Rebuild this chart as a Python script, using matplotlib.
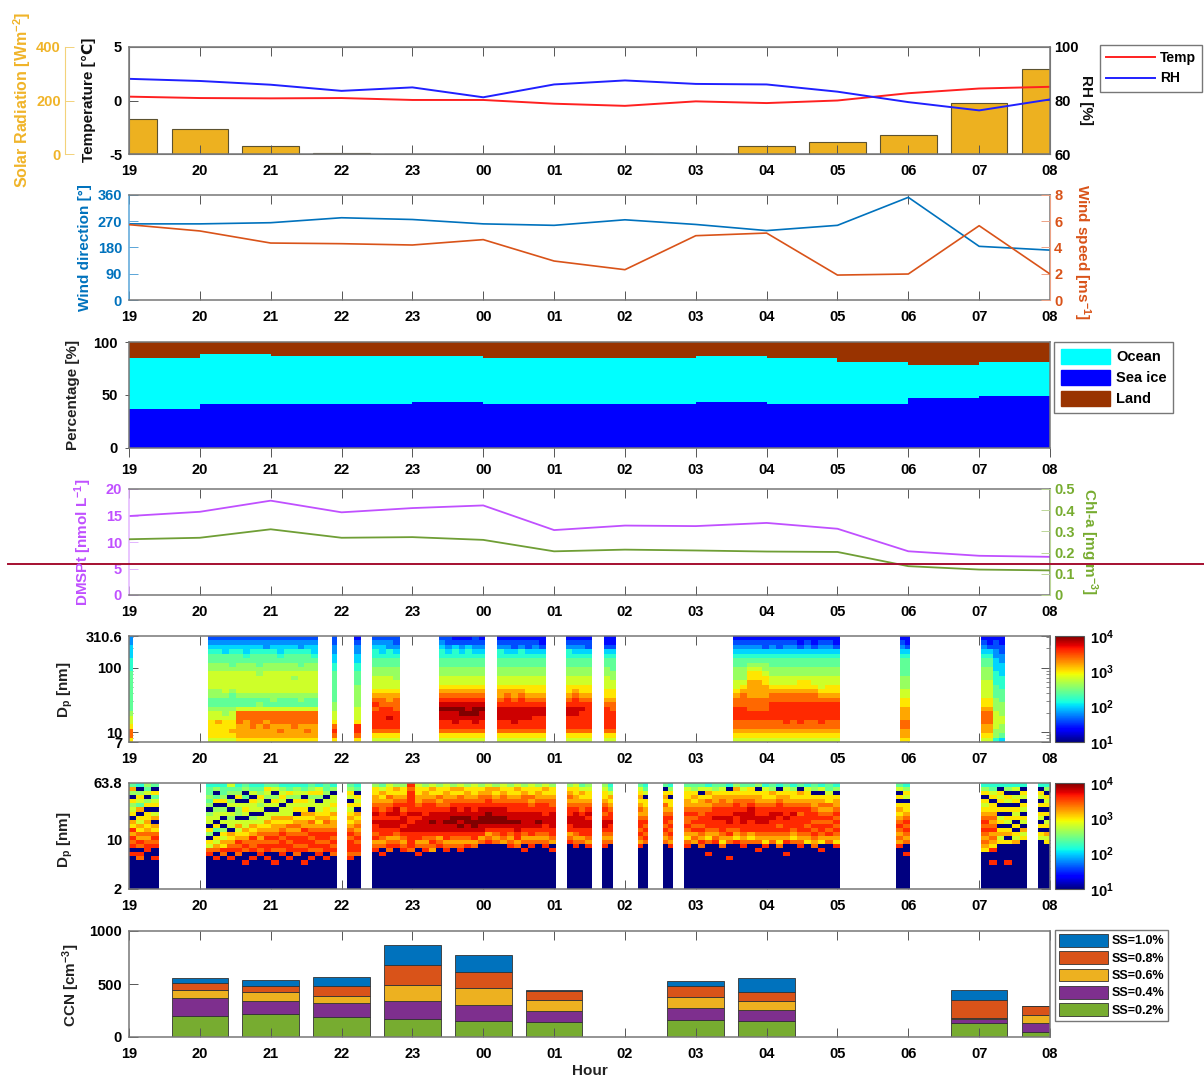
import numpy as np
import matplotlib
matplotlib.use('Agg')
import matplotlib.pyplot as plt
from matplotlib.colors import LogNorm
from matplotlib.cm import ScalarMappable
from matplotlib.lines import Line2D
from matplotlib.patches import Patch
from matplotlib.ticker import FixedLocator, NullFormatter

plt.rcParams['font.family'] = ['Liberation Sans', 'DejaVu Sans']
plt.rcParams['font.weight'] = 'bold'
plt.rcParams['mathtext.fontset'] = 'custom'
plt.rcParams['mathtext.rm'] = 'Liberation Sans:bold'
plt.rcParams['mathtext.bf'] = 'Liberation Sans:bold'
plt.rcParams['mathtext.default'] = 'rm'

hours = ['19', '20', '21', '22', '23', '00', '01', '02', '03', '04', '05', '06', '07', '08']

solar = [132, 95, 31, 5, 1, 1, 1, 1, 1, 29, 44, 72, 189, 318]
temp = [0.36, 0.23, 0.2, 0.23, 0.05, 0.05, -0.3, -0.5, -0.08, -0.24, 0, 0.68, 1.12, 1.28]
rh = [88.1, 87.3, 85.9, 83.6, 84.9, 81.2, 86, 87.5, 86.2, 86, 83.3, 79.4, 76.3, 80.4]

wind_dir = [261, 261, 265, 282, 276, 261, 256, 275, 259, 238, 256, 352, 184, 171]
wind_speed = [5.74, 5.26, 4.34, 4.29, 4.19, 4.6, 2.97, 2.31, 4.9, 5.1, 1.9, 1.98, 5.66, 1.98]

# per hour, steps
sea_ice = [37, 41.6, 41.6, 41.6, 43, 41.6, 41.6, 41.6, 43, 41.6, 41.6, 47, 49]
ocean_top = [85, 88.6, 87, 87, 87, 85, 85, 85, 87, 85, 81, 78.5, 81]

dmsp = [14.9, 15.7, 17.8, 15.6, 16.4, 16.9, 12.25, 13.1, 13, 13.6, 12.5, 8.25, 7.4, 7.2]
chla = [.263, .27, .31, .27, .273, .26, .206, .214, .21, .205, .203, .136, .12, .116]

ccn_pos = [1, 2, 3, 4, 5, 6, 8, 9, 12, 13]
ccn_02 = [199, 218, 184, 174, 152, 139, 165, 155, 133, 45]
ccn_04 = [168, 124, 136, 161, 152, 111, 113, 101, 35, 85]
ccn_06 = [80, 79, 66, 156, 155, 95, 95, 79, 12, 76]
ccn_08 = [63, 63, 98, 189, 158, 92, 105, 86, 168, 84]
ccn_10 = [44, 51, 86, 187, 161, 9, 47, 139, 98, 5]

# size distributions: one string per time column, bottom bin first,
# hex digit = colour level from 10^1 (0) to 10^4 (f)
smps_spans = [(0, 0.05), (1.12, 2.67), (2.87, 2.93), (3.18, 3.28), (3.43, 3.82), (4.37, 5.03),
              (5.19, 5.88), (6.17, 6.53), (6.7, 6.87), (8.53, 10.03), (10.88, 11.03), (12.03, 12.37)]
smps_cols = [
    ['acca99877777777766655544'],
    ['9aaaa9987788999988776543', '9aaab9987788999988776543', '9aaaa9887789999988775543', '9abaa9987778999987776543',
     'abbbccc97789999988776543', 'abbbbcc97789999988765543', 'abbcccc97789999988776543', 'abbbccc98789999887776543',
     'abbcbcc97789999988776443', 'abbbccc97889999988776543', 'abcbccc97789999988765543', 'abbbccc97789999988776543',
     'abbcccc97789998988776543', 'abbbccc97889999987776443', 'abcbccc97789999988776543', 'abbbccc97789999988765543'],
    ['acdca9988777777766554433'],
    ['acdda9998888877766554432'],
    ['9acddddcdcba999887766543', '9acdddddccba999887765543', '9acddeddcbba999887766443', '9acddddcccba998887765433'],
    ['9acddeefedcba99887766543', '9acddeefedcba99887765433', '9acdeeefedcba99887766532', '9acddeffedcba99887765432',
     '9acddefeedcba99887766532', '9acdeeffedcba99887765433', '9acddeefedcba99887765432'],
    ['9acddeeedcbba99887766432', '9acddeeeddcba99887765432', '9acdeeeedcbba99887765332', '9acddeeeddcba99887766432',
     '9acddeeedcbaa99887765332', '9acdddeedcbaa99887765432', '9acdddeedcbaa99887765322'],
    ['9acdddeedcbaa99887766432', '9acdddeeddcba99887765432', '9acddddedcbaa99887765432', '9acddddddcbaa99887765332'],
    ['9acdddddcbaa999887765322', '9acddddccbaa998877765322'],
    ['9abccdddccba998887765432', '9abccdddcccba98887765432',
     '9abccddcccbbbbaa98765432', '9abccddcccbbbbaa98765432', '9abccddcccbbbaa988765332',
     '9abccddddccba99887765432', '9abccddddccba99887765332', '9abcdddddccba99887765432', '9abccddddccba99887765432',
     '9abcdddddccbaa9887765322', '9abccddddccbaa9887765432', '9abccddddccba99887765322', '9abcdddddcba999887765432',
     '9abccddddcbaa99887765432', '9abccddddcbaa99887765322'],
    ['abbccbbbaa99888777765432', 'abbccbbbaa99888777765322'],
    ['9abbcccbaa99998887765432', '9abbcccbaa99998887765322', '688999988877766655544332', '578899888777666555443322'],
]

nano_spans = [(0, 0.42), (1.08, 2.94), (3.08, 3.27), (3.43, 6.03), (6.18, 6.53), (6.68, 6.83), (7.18, 7.33),
              (7.54, 7.68), (7.83, 10.03), (10.83, 11.03), (12.03, 12.68), (12.83, 13)]
nano_cols = [
    ['00000000d0dcdbdab0a98a08b7', '0000000cd0cdbcab9a0b79a806', '000000000ddcbcbabaa0a80978', '0000000d00dcdcab0b90a97a07'],
    ['00000000dc9a08a09980878776', '0000000d0cb9a07a09980a7086', '00000000cdab9a8090980a8776', '0000000d0dcbab0998909808 79',
     '00000000cdcdba9b908890a876', '000000d00cdcbab9909a907087', '0000000d0dccdbab98099a0976', '00000000dcdcbcba990989a876',
     '0000000d0ddcdcbab9909089a7', '000000d00cdcdcbbab909a8097', '00000000dcddcdcbab9909a986', '0000000d0ddcdcbcab99908a76',
     '00000000cdcddcbcba0a9a8986', '000000d00dcddcdbbaba9a0976', '0000000d0cddcdcbcab0998a87', '00000000dcdcddcbaba9908a96',
     '0000000d0ddcddcbcbaa990877', '00000000cdcdcdcbbab9a99086'],
    ['0000000dcdddcdcbaba9a09a87', '00000000cddcdcbcbab0a9a076'],
    ['000000000dcbdcddededcbbaa8', '00000000d0cbcddeeddccbab97', '000000000cdcbddeededcbcaa9', '0000000000dcbcdeedeedcbab8',
     '000000000dcbcdedeedcdcbaa8', '000000000cddddeeddedddddcd', '00000000d0cbddeeededcbbaa9', '000000000dcbcdeeeedddcbba8',
     '000000000bcdcdeefeeddcbab9', '0000000000dcbdeeeeedcbcaa8', '000000000dcbddeefeedccbba9', '0000000000cbcdeeffeedcbab8',
     '000000000dcbcdefefeddccab9', '0000000000dbcdeeffeedcbba8', '0000000000cbddeffeeddcbaa9', '00000000000cbdeeffeedccba8',
     '00000000000dcbdefffeddcbb9', '00000000000cbcdeffeedcbab8', '00000000000bcddeffeedccba9', '0000000000dcbcdefeeddcbaa8',
     '0000000000cbddeefeeddcbab9', '000000000d0cbcdeeeeddccba8', '0000000000dcbddeeeedcbcaa9', '00000000000cbcdefeeddcbba8',
     '0000000000dcbcddeedddcbab9', '000000000d0bcddeeeedccbaa8'],
    ['00000000000dcbddeeddcbcba8', '0000000000dcbcdeeeedcbbaa9', '00000000000cbddeeedccbab97', '0000000000dbcddeededcbaa98'],
    ['0000000000dcbcdeedcdcbaa98', '00000000000cbcddeddcbab976'],
    ['0000000000dbcdcddcbcbaba97', '00000000000cdcdcdcbbaa0976'],
    ['00000000000cbcdcddcbcaba07', '0000000000dbcdcdcdcbaa0a86'],
    ['0000000000dcabcdccdcbbaa97', '00000000000bcbdcdcdcbaba87', '0000000000cdbcdcddccbba097', '00000000d00cabcddddcbcab96',
     '00000000000dcbcddeddcbba87', '0000000000cabcdddeddccba97', '0000000d000cbdcdeeddcbba06', '00000000000dabcdddeddcbab8',
     '0000000000dcbcddeeedccba97', '00000000000cabdddeeedcbaa7', '000000000d0cbcddeeddcbba08', '0000000000dabcddeeddcbaa96',
     '00000000000cbcdddeedcbab87', '0000000000cabcdcddeddcba06', '00000000d00dbcdddeddcbba97', '00000000000cabcdddedcbaa86',
     '0000000000dcbcddddcdcbab07', '00000000000abcdcddddcbaa96', '0000000000cbcdcdcddcbba087', '000000000d0abcddcdcbcba096',
     '00000000000cbdcdcdcbcaa97', '0000000000dabcdcdcdcbba086'],
    ['0000000000dbcbcdcbaba0a097', '00000000d00cbcdcdcbaa09a86'],
    ['000000000abcbcdcdcba9a0a86', '000000d00dabcbdcbcbaa0a976', '00000000000a9ba0a90a0a9a06', '000000d0000a0ba09a0a09a086',
     '00000000000b9a0a0a9a0a9096', '000000000000a9b09a09a09a06'],
    ['0000000000009a0a09a0a09a06', '00000000000a9b0a90a0a9a086'],
]

blue = '#0072bd'
orange = '#d95319'
yellow = '#edb120'
purple = '#7e2f8e'
green = '#77ac30'
gray = '#555555'

W, H = 1204, 1081
fig = plt.figure(figsize=(W / 100, H / 100), dpi=100)


def panel(top, bottom, x0=129, x1=1050):
    return fig.add_axes([x0 / W, 1 - bottom / H, (x1 - x0) / W, (bottom - top) / H])


def label(x, y, s, color='#222222', rot=90, size=11):
    fig.text(x / W, 1 - y / H, s, color=color, rotation=rot, ha='center', va='center', fontsize=size, fontweight='bold')


def setup(ax, direction='in'):
    ax.set_xlim(0, 13)
    ax.set_xticks(range(14))
    ax.set_xticklabels(hours)
    ax.tick_params(axis='both', direction=direction, length=6.5, width=0.7, color=gray, labelsize=10.5)
    ax.tick_params(axis='x', top=direction == 'in', pad=7.5 if direction == 'in' else 4)
    ax.tick_params(axis='y', pad=5)
    for s in ax.spines.values():
        s.set_color('#777777')
        s.set_linewidth(1.1)


def color_side(ax, side, color):
    ax.spines[side].set_color(color)
    ax.tick_params(axis='y', colors=color, labelcolor=color)


x = np.arange(14)

# 1 met
ax1s = panel(47, 154)
ax1s.set_xlim(0, 13)
ax1s.set_ylim(0, 400)
ax1s.bar(x, solar, width=0.8, color=yellow, edgecolor='#5c5230', linewidth=0.8)
ax1s.set_xticks([])
ax1s.set_yticks([0, 200, 400])
for s in ['top', 'right', 'bottom']:
    ax1s.spines[s].set_visible(False)
ax1s.spines['left'].set_position(('axes', (65 - 129) / 921))
ax1s.spines['left'].set_color('#f3d27a')
ax1s.tick_params(axis='y', direction='in', length=6.5, width=0.7, color='#f3d27a', labelcolor='#f0b429', labelsize=10.5, pad=3)

ax1 = panel(47, 154)
ax1.patch.set_visible(False)
setup(ax1)
ax1.set_ylim(-5, 5)
ax1.set_yticks([-5, 0, 5])
ax1.set_yticklabels(['-5', '0', '5'])
l_t, = ax1.plot(x, temp, color='#ff2020', lw=1.4)
ax1r = ax1.twinx()
ax1r.set_ylim(60, 100)
ax1r.set_yticks([60, 80, 100])
ax1r.tick_params(axis='y', direction='in', length=6.5, width=0.7, color=gray, labelsize=10.5, pad=3)
l_r, = ax1r.plot(x, rh, color='#2020ff', lw=1.4)
for s in ax1r.spines.values():
    s.set_color('#777777')
fig.legend([l_t, l_r], ['Temp', 'RH'], loc='upper left', bbox_to_anchor=(1100 / W, 1 - 45 / H), fontsize=10,
           fancybox=False, edgecolor='#777777', framealpha=1, borderaxespad=0, labelspacing=0.45, handlelength=3.5,
           handletextpad=0.35, borderpad=0.45)
label(22, 100, 'Solar Radiation [Wm$^{-2}$]', '#f0b429', size=11.5)
label(89, 100, 'Temperature [℃]', '#111111')
label(1086, 100, 'RH [%]', '#111111', rot=270)

# 2 wind
ax2 = panel(195, 300)
setup(ax2)
ax2.set_ylim(0, 360)
ax2.set_yticks([0, 90, 180, 270, 360])
ax2.plot(x, wind_dir, color=blue, lw=1.2)
ax2r = ax2.twinx()
ax2r.set_ylim(0, 8)
ax2r.set_yticks([0, 2, 4, 6, 8])
ax2r.tick_params(axis='y', direction='in', length=6.5, width=0.7, labelsize=10.5, pad=3)
ax2r.plot(x, wind_speed, color=orange, lw=1.2)
color_side(ax2, 'left', '#5aa5d8')
ax2.tick_params(axis='y', labelcolor=blue)
for s in ax2r.spines.values():
    s.set_visible(False)
ax2r.spines['right'].set_visible(True)
color_side(ax2r, 'right', '#eda285')
ax2r.tick_params(axis='y', labelcolor=orange)
label(85, 248, 'Wind direction [°]', blue)
label(1082, 252, 'Wind speed [ms$^{-1}$]', orange, rot=270)

# 3 air mass
ax3 = panel(342, 448)
setup(ax3, 'out')
ax3.set_ylim(0, 100)
ax3.set_yticks([0, 50, 100])
ax3.tick_params(axis='y', length=3)
edges = np.arange(14)
ax3.stairs(np.full(13, 100), edges, fill=True, color='#993300', label='Land')
ax3.stairs(ocean_top, edges, fill=True, color='#00ffff', label='Ocean')
ax3.stairs(sea_ice, edges, fill=True, color='#0000ff', label='Sea ice')
h3 = [Patch(color='#00ffff'), Patch(color='#0000ff'), Patch(color='#993300')]
fig.legend(h3, ['Ocean', 'Sea ice', 'Land'], loc='upper left', bbox_to_anchor=(1054 / W, 1 - 342 / H), fontsize=10.5,
           fancybox=False, edgecolor='#777777', framealpha=1, borderaxespad=0, labelspacing=0.4, handlelength=3.4,
           handleheight=1.2, handletextpad=0.4, borderpad=0.45)
label(73, 395, 'Percentage [%]')

# 4 DMSP
ax4 = panel(489, 595)
setup(ax4)
ax4.set_ylim(0, 20)
ax4.set_yticks([0, 5, 10, 15, 20])
ax4.plot(x, dmsp, color='#c050ff', lw=1.3)
ax4r = ax4.twinx()
ax4r.set_ylim(0, 0.5)
ax4r.set_yticks([0, .1, .2, .3, .4, .5])
ax4r.set_yticklabels(['0', '0.1', '0.2', '0.3', '0.4', '0.5'])
ax4r.tick_params(axis='y', direction='in', length=6.5, width=0.7, labelsize=10.5, pad=3)
ax4r.plot(x, chla, color='#6f9e35', lw=1.3)
color_side(ax4, 'left', '#e3b5ff')
ax4.tick_params(axis='y', labelcolor='#c050ff')
for s in ax4r.spines.values():
    s.set_visible(False)
ax4r.spines['right'].set_visible(True)
color_side(ax4r, 'right', '#bcd698')
ax4r.tick_params(axis='y', labelcolor=green)
label(83, 542, 'DMSPt [nmol L$^{-1}$]', '#c050ff')
label(1089, 542, 'Chl-a [mg m$^{-3}$]', green, rot=270)

norm = LogNorm(10, 1e4)


def draw_sizes(ax, spans, cols, n_rows, ymin, ymax):
    ybins = np.geomspace(ymin, ymax, n_rows + 1)
    for (t0, t1), c in zip(spans, cols):
        c = [s.replace(' ', '') for s in c]
        z = np.array([[int(ch, 16) for ch in s.ljust(n_rows, s[-1])[:n_rows]] for s in c]).T
        ax.pcolormesh(np.linspace(t0, t1, len(c) + 1), ybins, 10 ** (1 + 3 * z / 15), cmap='jet', norm=norm)
    ax.set_yscale('log')
    ax.set_ylim(ymin, ymax)
    ax.set_axisbelow(True)


def size_axes(ax, ticks, labels, cb_top, cb_bottom):
    setup(ax)
    ax.yaxis.set_major_locator(FixedLocator(ticks))
    ax.set_yticklabels(labels)
    minor = [m * 10 ** e for e in range(0, 3) for m in range(2, 10)]
    ax.yaxis.set_minor_locator(FixedLocator([m for m in minor if ax.get_ylim()[0] < m < ax.get_ylim()[1]]))
    ax.yaxis.set_minor_formatter(NullFormatter())
    ax.tick_params(axis='y', which='both', right=True)
    ax.tick_params(axis='y', which='minor', direction='in', length=3, width=0.5, color=gray)
    cax = panel(cb_top, cb_bottom, 1055, 1084)
    cb = fig.colorbar(ScalarMappable(norm=norm, cmap='jet'), cax=cax)
    cb.set_ticks([10, 100, 1000, 10000])
    cb.set_ticklabels(['$10^{1}$', '$10^{2}$', '$10^{3}$', '$10^{4}$'])
    cb.ax.minorticks_off()
    cb.ax.tick_params(length=0, labelsize=10.5, pad=4)
    cb.outline.set_edgecolor('#555555')


# 5 SMPS
ax5 = panel(636, 742)
draw_sizes(ax5, smps_spans, smps_cols, 24, 7, 310.6)
size_axes(ax5, [7, 10, 100, 310.6], ['7', '10', '100', '310.6'], 636, 742)
label(65, 690, 'D$_p$ [nm]')

# 6 nano
ax6 = panel(783, 889)
draw_sizes(ax6, nano_spans, nano_cols, 26, 2, 63.8)
size_axes(ax6, [2, 10, 63.8], ['2', '10', '63.8'], 783, 889)
label(65, 840, 'D$_p$ [nm]')

# 7 CCN
ax7 = panel(931, 1037)
setup(ax7)
ax7.set_ylim(0, 1000)
ax7.set_yticks([0, 500, 1000])
bottom = np.zeros(len(ccn_pos))
bars = []
for vals, c in [(ccn_02, green), (ccn_04, purple), (ccn_06, yellow), (ccn_08, orange), (ccn_10, blue)]:
    bars.append(ax7.bar(ccn_pos, vals, width=0.8, bottom=bottom, color=c, edgecolor='#333333', linewidth=0.6))
    bottom = bottom + np.array(vals)
ss_names = ['SS=1.0%', 'SS=0.8%', 'SS=0.6%', 'SS=0.4%', 'SS=0.2%']
fig.legend(bars[::-1], ss_names, loc='upper left', bbox_to_anchor=(1055 / W, 1 - 930 / H), fontsize=9,
           fancybox=False, edgecolor='#777777', framealpha=1, borderaxespad=0, labelspacing=0.3, handlelength=3.9,
           handleheight=1.2, handletextpad=0.35, borderpad=0.3)
label(71, 985, 'CCN [cm$^{-3}$]')
label(590, 1071, 'Hour', rot=0, size=11)

# the stray line across the page
fig.add_artist(Line2D([8 / W, 1], [1 - 563.5 / H, 1 - 563.5 / H], color='#a50f30', lw=1.4))

fig.savefig('out.png', dpi=100)
